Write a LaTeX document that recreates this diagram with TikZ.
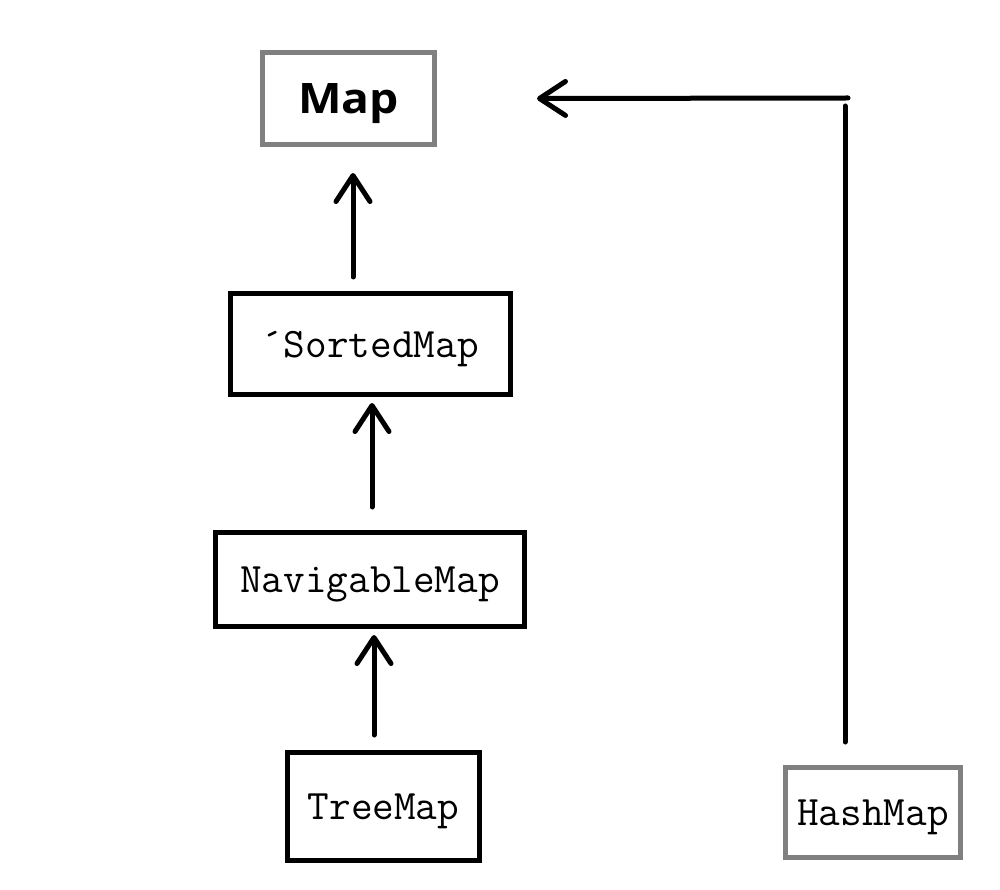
\documentclass[tikz,border=0pt]{standalone}
\usepackage{fontspec}
\usepackage{tikz}
\usetikzlibrary{arrows.meta}
\newfontfamily\headfont{Open Sans}[FakeStretch=1.1]
\definecolor{edgegray}{HTML}{808080}
\tikzset{
  ar/.style={-{Straight Barb[length=26pt,width=34pt,round]},line width=5pt,line cap=round},
  ln/.style={line width=5pt,line cap=round},
  box/.style={draw,line width=5pt,fill=white,inner sep=0pt,text height=26pt,text depth=0pt,font=\ttfamily\fontsize{42}{42}\selectfont},
  grbox/.style={box,draw=edgegray}
}
\begin{document}
\begin{tikzpicture}[x=1pt,y=-1pt]
\useasboundingbox (0,0) rectangle (1000,890);
\node[grbox,minimum width=172pt,minimum height=92pt,text height=30pt,font=\headfont\bfseries\fontsize{42}{42}\selectfont] (map) at (348.5,98.5) {Map};
\node[box,minimum width=280pt,minimum height=101pt] (sorted) at (370.5,344) {\'{}SortedMap};
\node[box,minimum width=309pt,minimum height=94pt] (nav) at (370,579.5) {NavigableMap};
\node[box,minimum width=192pt,minimum height=108pt] (tree) at (383.5,806.5) {TreeMap};
\node[grbox,minimum width=175pt,minimum height=90pt] (hash) at (873,812.5) {HashMap};
\coordinate (corner) at (848,98);
% inheritance arrows
\draw[ar] ([shift={(-9.5,-15)}]tree.north) -- ([shift={(4,6)}]nav.south);
\draw[ar] ([shift={(2,-23)}]nav.north) -- ([shift={(1.5,6)}]sorted.south);
\draw[ar] ([shift={(-17.5,-14)}]sorted.north) -- ([shift={(4.5,26)}]map.south);
\draw[ln] ([shift={(-28,-23)}]hash.north) -- ([shift={(-3,8)}]corner);
\draw[ar] (corner) -- ([xshift=100]map.east);
\end{tikzpicture}
\end{document}
